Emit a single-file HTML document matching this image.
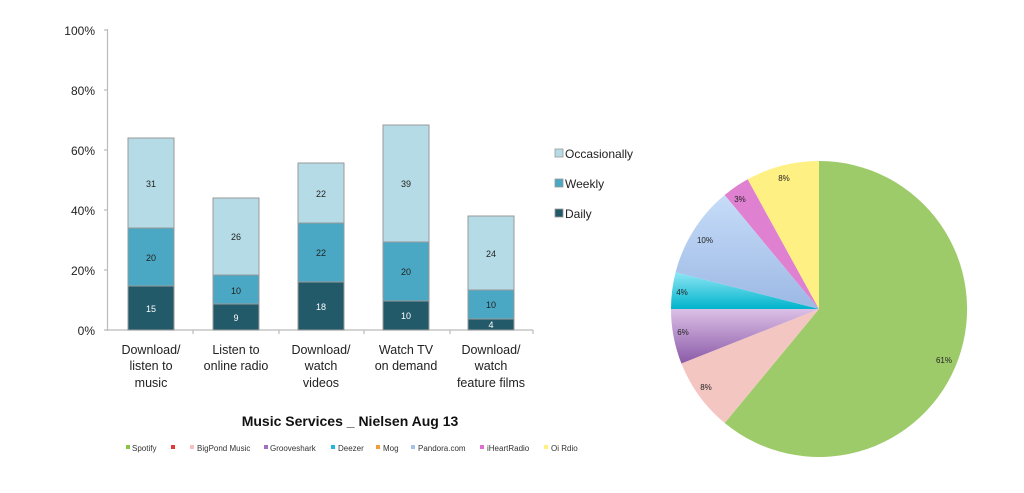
<!DOCTYPE html>
<html><head><meta charset="utf-8"><style>
body{margin:0;background:#fff;}
svg text{font-family:"Liberation Sans",sans-serif;}
</style></head><body>
<svg width="1024" height="488" viewBox="0 0 1024 488" xmlns="http://www.w3.org/2000/svg">
<defs>
<linearGradient id="pg" x1="0" y1="0" x2="0" y2="1"><stop offset="0" stop-color="#dcc0e6"/><stop offset="1" stop-color="#8a5aa8"/></linearGradient>
<linearGradient id="cg" x1="0" y1="0" x2="0" y2="1"><stop offset="0" stop-color="#8ee6f4"/><stop offset="1" stop-color="#00b4cc"/></linearGradient>
<linearGradient id="bg" x1="0" y1="0" x2="0" y2="1"><stop offset="0" stop-color="#c6dcf8"/><stop offset="1" stop-color="#9cb8e4"/></linearGradient>
</defs>
<g font-size="12" fill="#222" text-anchor="end">
<text x="95" y="35">100%</text><text x="95" y="95">80%</text><text x="95" y="155">60%</text>
<text x="95" y="215">40%</text><text x="95" y="275">20%</text><text x="95" y="335">0%</text>
</g>
<g stroke="#bbb" stroke-width="1.2">
<line x1="107.5" y1="29" x2="107.5" y2="331"/><line x1="104" y1="330" x2="533" y2="330"/>
<line x1="104" y1="30" x2="107" y2="30"/><line x1="104" y1="90" x2="107" y2="90"/><line x1="104" y1="150" x2="107" y2="150"/><line x1="104" y1="210" x2="107" y2="210"/><line x1="104" y1="270" x2="107" y2="270"/>
<line x1="193" y1="330" x2="193" y2="334"/><line x1="279" y1="330" x2="279" y2="334"/><line x1="364" y1="330" x2="364" y2="334"/><line x1="450" y1="330" x2="450" y2="334"/><line x1="533" y1="330" x2="533" y2="334"/>
</g>
<g stroke="#999" stroke-width="1">
<rect x="128" y="138" width="46" height="90" fill="#b5dce6"/><rect x="128" y="228" width="46" height="58" fill="#4aa8c4"/><rect x="128" y="286" width="46" height="44" fill="#235a6a"/>
<rect x="213" y="198" width="46" height="77" fill="#b5dce6"/><rect x="213" y="275" width="46" height="29" fill="#4aa8c4"/><rect x="213" y="304" width="46" height="26" fill="#235a6a"/>
<rect x="298" y="163" width="46" height="60" fill="#b5dce6"/><rect x="298" y="223" width="46" height="59" fill="#4aa8c4"/><rect x="298" y="282" width="46" height="48" fill="#235a6a"/>
<rect x="383" y="125" width="46" height="117" fill="#b5dce6"/><rect x="383" y="242" width="46" height="59" fill="#4aa8c4"/><rect x="383" y="301" width="46" height="29" fill="#235a6a"/>
<rect x="468" y="216" width="46" height="74" fill="#b5dce6"/><rect x="468" y="290" width="46" height="29" fill="#4aa8c4"/><rect x="468" y="319" width="46" height="11" fill="#235a6a"/>
</g>
<g font-size="9" text-anchor="middle" fill="#222">
<text x="151" y="187">31</text><text x="151" y="261">20</text><text x="151" y="312" fill="#fff">15</text>
<text x="236" y="240">26</text><text x="236" y="294">10</text><text x="236" y="321" fill="#fff">9</text>
<text x="321" y="197">22</text><text x="321" y="256">22</text><text x="321" y="310" fill="#fff">18</text>
<text x="406" y="187">39</text><text x="406" y="275">20</text><text x="406" y="319" fill="#fff">10</text>
<text x="491" y="257">24</text><text x="491" y="308">10</text><text x="491" y="328" fill="#fff">4</text>
</g>
<g font-size="12.5" text-anchor="middle" fill="#222">
<text x="151" y="354">Download/</text><text x="151" y="370">listen to</text><text x="151" y="387">music</text>
<text x="236" y="354">Listen to</text><text x="236" y="370">online radio</text>
<text x="321" y="354">Download/</text><text x="321" y="370">watch</text><text x="321" y="387">videos</text>
<text x="406" y="354">Watch TV</text><text x="406" y="370">on demand</text>
<text x="491" y="354">Download/</text><text x="491" y="370">watch</text><text x="491" y="387">feature films</text>
</g>
<g stroke="#999" stroke-width="0.8">
<rect x="555" y="149" width="8" height="8" fill="#b5dce6"/><rect x="555" y="179" width="8" height="8" fill="#4aa8c4"/><rect x="555" y="209" width="8" height="8" fill="#235a6a"/>
</g>
<g font-size="12" fill="#222">
<text x="565" y="158">Occasionally</text><text x="565" y="188">Weekly</text><text x="565" y="218">Daily</text>
</g>
<text x="350" y="426" font-size="14" font-weight="bold" text-anchor="middle" fill="#111">Music Services _ Nielsen Aug 13</text>
<g font-size="8" fill="#333">
<rect x="126" y="445" width="4" height="4" fill="#8bc34a"/><text x="132" y="451">Spotify</text>
<rect x="171" y="445" width="4" height="4" fill="#e53935"/>
<rect x="190" y="445" width="4" height="4" fill="#f4c0c0"/><text x="197" y="451">BigPond Music</text>
<rect x="264" y="445" width="4" height="4" fill="#a070c0"/><text x="270" y="451">Grooveshark</text>
<rect x="331" y="445" width="4" height="4" fill="#20b8d8"/><text x="338" y="451">Deezer</text>
<rect x="376" y="445" width="4" height="4" fill="#f39c3c"/><text x="383" y="451">Mog</text>
<rect x="411" y="445" width="4" height="4" fill="#a8c0ec"/><text x="418" y="451">Pandora.com</text>
<rect x="480" y="445" width="4" height="4" fill="#e070d0"/><text x="487" y="451">iHeartRadio</text>
<rect x="544" y="445" width="4" height="4" fill="#fff080"/><text x="551" y="451">Oi Rdio</text>
</g>
<g>
<path d="M819,309 L819,161 A148,148 0 1,1 724.7,423 Z" fill="#9ecb6a"/>
<path d="M819,309 L724.7,423 A148,148 0 0,1 681.4,363.5 Z" fill="#f4c6c2"/>
<path d="M819,309 L681.4,363.5 A148,148 0 0,1 671,309 Z" fill="url(#pg)"/>
<path d="M819,309 L671,309 A148,148 0 0,1 675.6,272.2 Z" fill="url(#cg)"/>
<path d="M819,309 L675.6,272.2 A148,148 0 0,1 724.7,195 Z" fill="url(#bg)"/>
<path d="M819,309 L724.7,195 A148,148 0 0,1 747.7,179.3 Z" fill="#e080d0"/>
<path d="M819,309 L747.7,179.3 A148,148 0 0,1 819,161 Z" fill="#fff084"/>
</g>
<g font-size="8" fill="#222" text-anchor="middle">
<text x="944" y="363">61%</text><text x="706" y="390">8%</text><text x="683" y="335">6%</text>
<text x="682" y="295">4%</text><text x="705" y="243">10%</text><text x="740" y="202">3%</text><text x="784" y="181">8%</text>
</g>
</svg>
</body></html>
